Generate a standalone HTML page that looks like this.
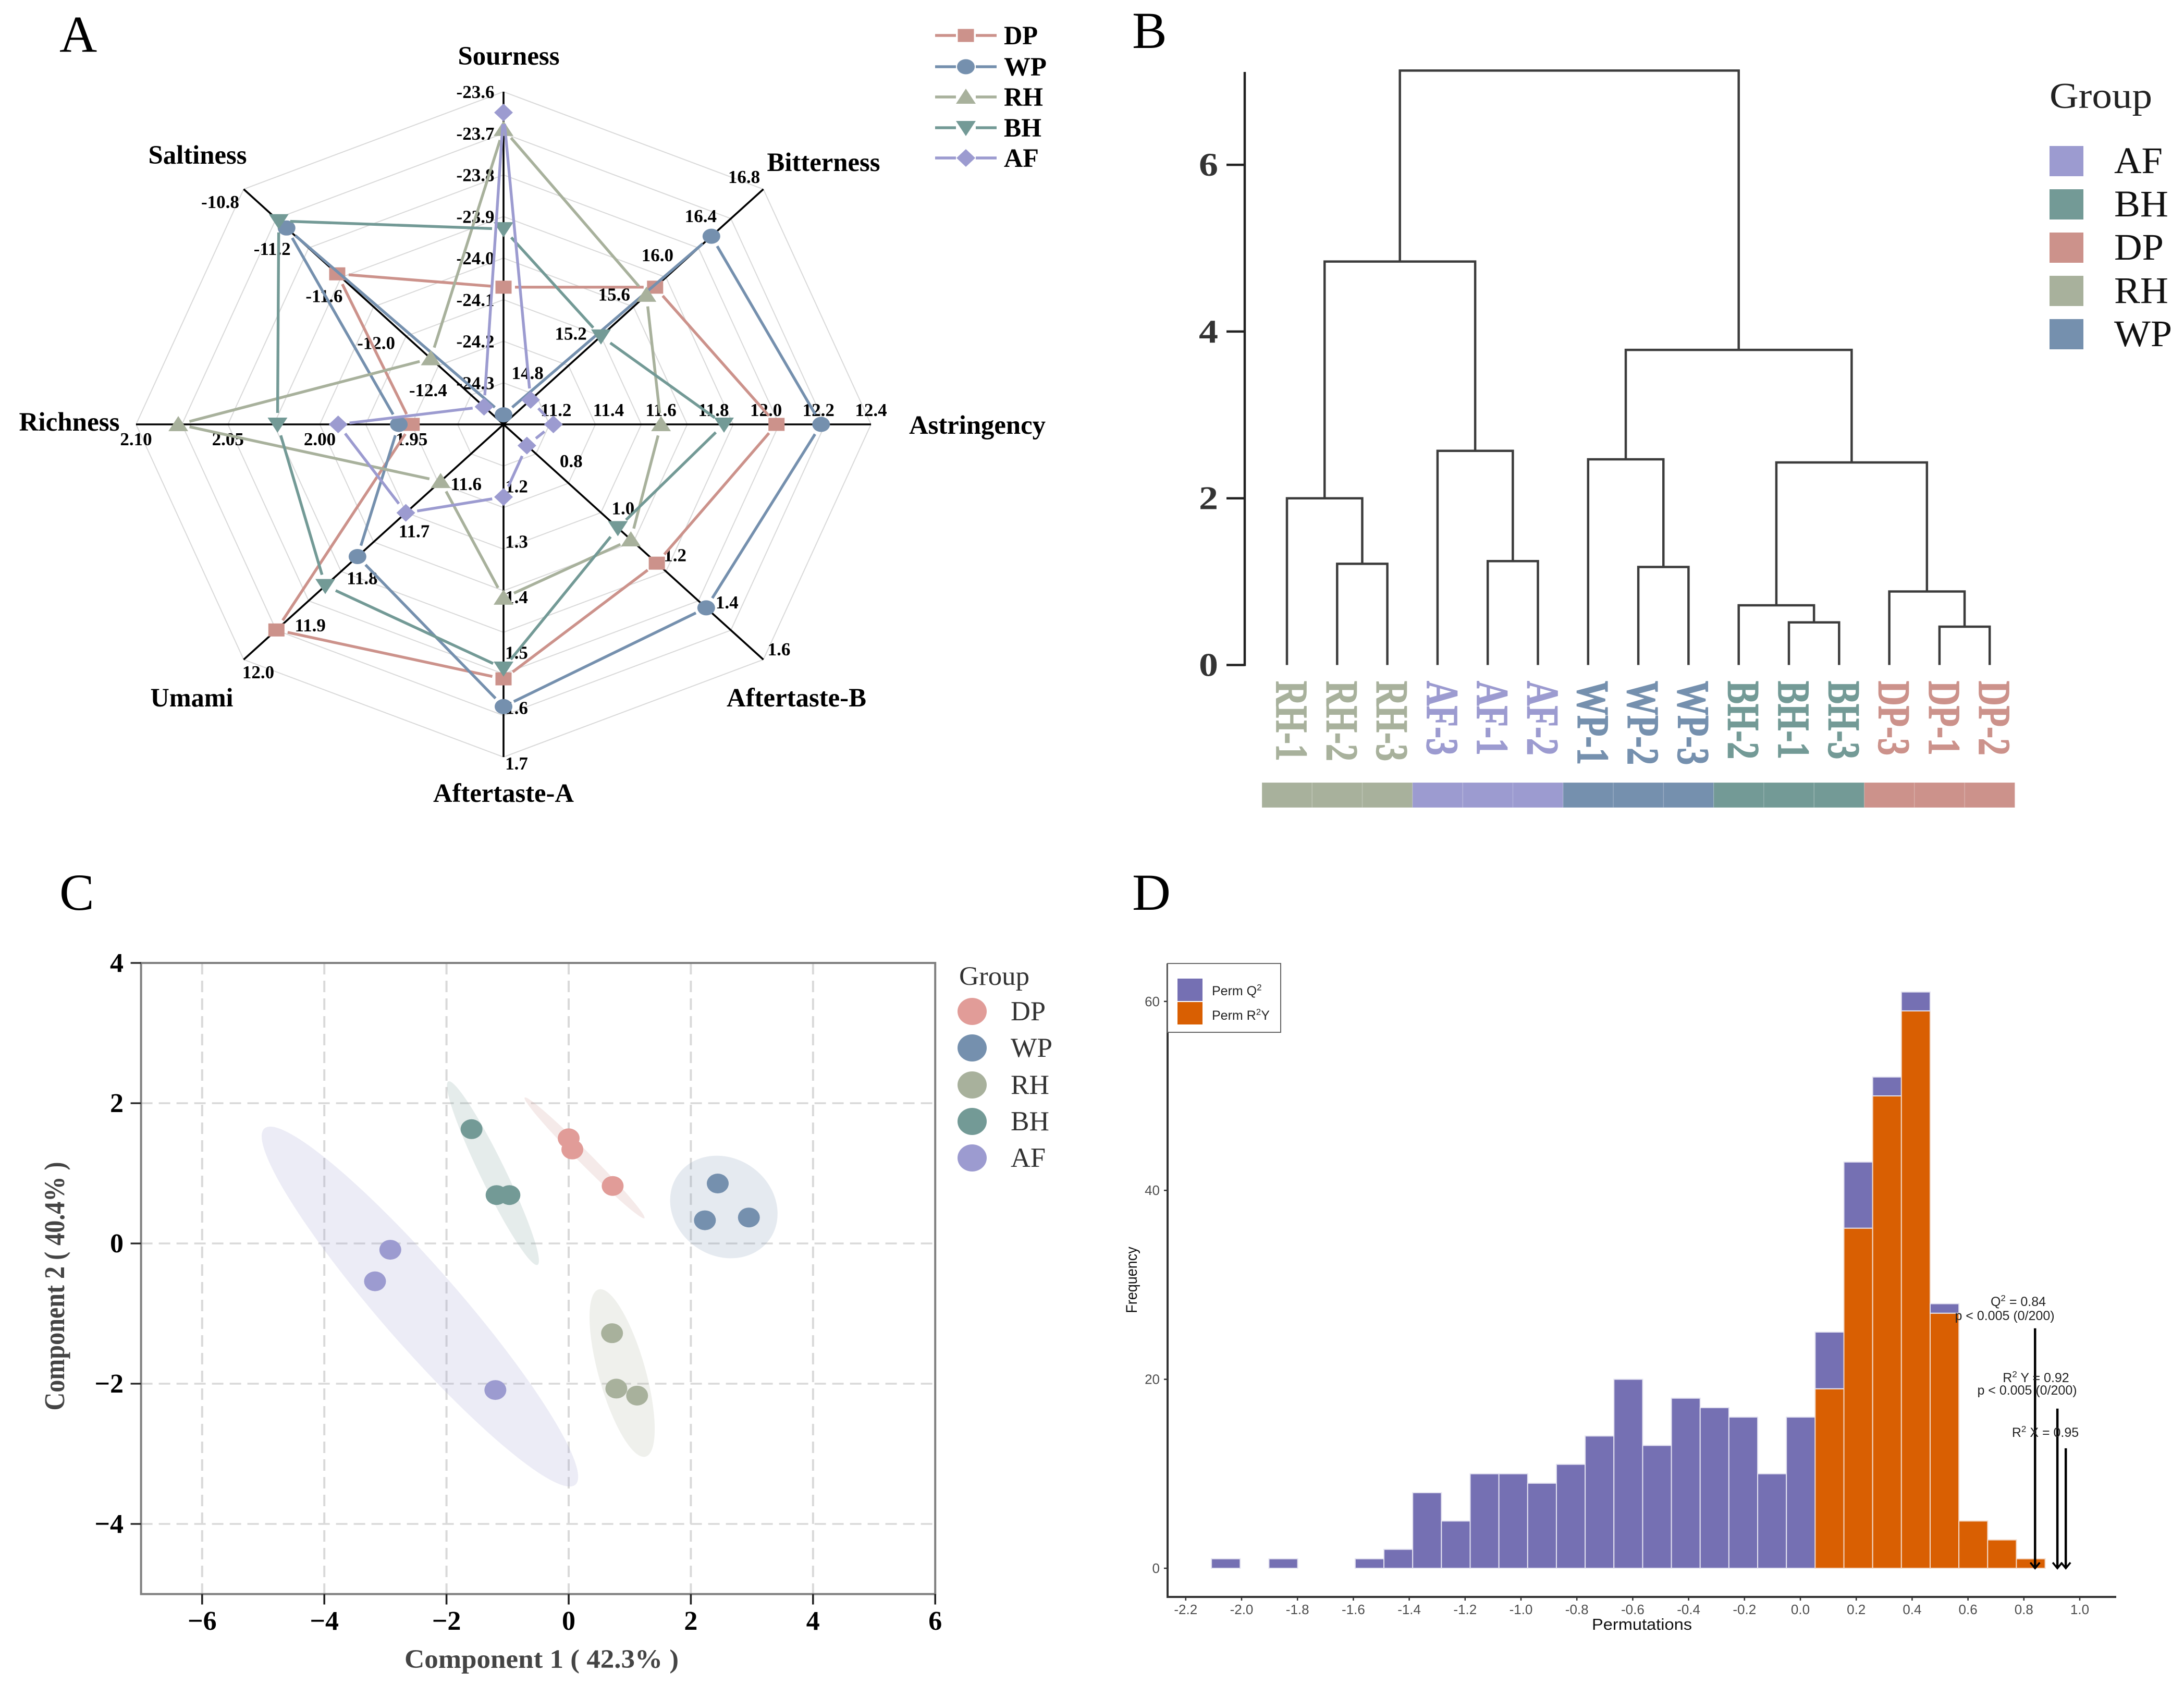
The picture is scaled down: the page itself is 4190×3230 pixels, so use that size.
<!DOCTYPE html>
<html lang="en">
<head>
<meta charset="utf-8">
<title>Four panel sensory analysis figure</title>
<style>
html,body{margin:0;padding:0;background:#fff;}
svg{display:block;}
</style>
</head>
<body>
<svg id="figure" xmlns="http://www.w3.org/2000/svg" width="4190" height="3230" viewBox="0 0 4190 3230" font-family="'Liberation Serif', serif">
  <rect width="4190" height="3230" fill="#fff"/>
  <text x="114" y="99" font-size="100" fill="#000">A</text>
  <text x="2172" y="92" font-size="100" fill="#000">B</text>
  <text x="114" y="1745" font-size="100" fill="#000">C</text>
  <text x="2172" y="1745" font-size="100" fill="#000" textLength="74" lengthAdjust="spacingAndGlyphs">D</text>
  <g id="panel-a"></g>
  <g id="panel-b"></g>
  <g id="panel-c"></g>
  <g id="panel-d"></g>
</svg>

<script>
// Shared SVG helpers
const SVG_NS = 'http://www.w3.org/2000/svg';
function make(tag, attrs, parent) {
  const el = document.createElementNS(SVG_NS, tag);
  for (const k in attrs) el.setAttribute(k, attrs[k]);
  parent.appendChild(el);
  return el;
}
function writeText(parent, str, x, y, size, o) {
  o = o || {};
  const a = {'font-size': size, fill: o.fill || '#000', 'text-anchor': o.anchor || 'start'};
  if (o.weight) a['font-weight'] = o.weight;
  if (o.family) a['font-family'] = o.family;
  if (o.len) { a.textLength = o.len; a.lengthAdjust = 'spacingAndGlyphs'; }
  if (o.rotate !== undefined) {
    a.transform = 'translate(' + x + ',' + y + ') rotate(' + o.rotate + ') scale(1,' + (o.stretch || 1) + ')';
    a.x = 0; a.y = 0;
  } else { a.x = x; a.y = y; }
  const el = make('text', a, parent);
  el.textContent = str;
  return el;
}
const groupColors = {DP: '#cc928b', WP: '#7590ae', RH: '#a8b19c', BH: '#739a96', AF: '#9c9bd0'};
</script>

<script>
// Panel A: radar chart
const radarAxes = ['Sourness', 'Bitterness', 'Astringency', 'Aftertaste-B', 'Aftertaste-A', 'Umami', 'Richness', 'Saltiness'];
const radarAxisMin = [-24.4, 14.4, 11.0, 0.6, 1.1, 11.5, 1.90, -12.8];
const radarAxisMax = [-23.6, 16.8, 12.4, 1.6, 1.7, 12.0, 2.10, -10.8];
const radarTicks = [
  ['-24.3', '-24.2', '-24.1', '-24.0', '-23.9', '-23.8', '-23.7', '-23.6'],
  ['14.8', '15.2', '15.6', '16.0', '16.4', '16.8'],
  ['11.2', '11.4', '11.6', '11.8', '12.0', '12.2', '12.4'],
  ['0.8', '1.0', '1.2', '1.4', '1.6'],
  ['1.2', '1.3', '1.4', '1.5', '1.6', '1.7'],
  ['11.6', '11.7', '11.8', '11.9', '12.0'],
  ['1.95', '2.00', '2.05', '2.10'],
  ['-12.4', '-12.0', '-11.6', '-11.2', '-10.8']
];
const radarDP = [-24.07, 15.80, 12.04, 1.19, 1.559, 11.937, 1.950, -11.52];
const radarWP = [-24.377, 16.32, 12.21, 1.38, 1.609, 11.781, 1.957, -11.13];
const radarRH = [-23.69, 15.72, 11.60, 1.09, 1.413, 11.621, 2.077, -12.24];
const radarBH = [-23.93, 15.30, 11.84, 1.04, 1.54, 11.843, 2.023, -11.07];
const radarAF = [-23.65, 14.65, 11.19, 0.69, 1.231, 11.688, 1.99, -12.65];
const radarSeriesNames = ['DP', 'WP', 'RH', 'BH', 'AF'];

(function () {
  const g = document.getElementById('panel-a');
  const cx = 966, cy = 814, rx = 705, ry = 638, rings = 8;
  const series = [radarDP, radarWP, radarRH, radarBH, radarAF];
  const tickOffsets = [[-54, 12], [-37, -12], [0, -16], [30, -8], [25, 24], [28, 36], [0, 40], [-45, 36]];
  const titleSpots = [[976, 124, 195], [1580, 328, 217], [1875, 832, 262], [1528, 1355, 268], [966, 1538, 270], [368, 1355, 159], [133, 826, 193], [379, 314, 189]];
  function pt(axis, frac) {
    const th = axis * Math.PI / 4;
    return [cx + rx * Math.sin(th) * frac, cy - ry * Math.cos(th) * frac];
  }
  function scale(axis, v) {
    return (v - radarAxisMin[axis]) / (radarAxisMax[axis] - radarAxisMin[axis]);
  }
  for (let r = 1; r <= rings; r++) {
    const pts = radarAxes.map((_, i) => pt(i, r / rings).map(n => n.toFixed(1)).join(',')).join(' ');
    const ring = make('polygon', {points: pts, fill: 'none', stroke: '#d9d9d9', 'stroke-width': 2}, g);
    
    
  }
  radarAxes.forEach((name, i) => {
    const p = pt(i, 1);
    const ax = make('line', {x1: cx, y1: cy, x2: p[0], y2: p[1], stroke: '#000', 'stroke-width': 3.6}, g);
    
    
    radarTicks[i].forEach(t => {
      const q = pt(i, scale(i, parseFloat(t)));
      const lbl = writeText(g, t, q[0] + tickOffsets[i][0], q[1] + tickOffsets[i][1], 35, {weight: 'bold', anchor: 'middle'});
      
      
    });
    const s = titleSpots[i];
    const title = writeText(g, name, s[0], s[1], 51, {weight: 'bold', anchor: 'middle', len: s[2]});
    
    
  });
  function marker(parent, name, x, y) {
    const fill = groupColors[name];
    if (name === 'DP') return make('rect', {x: x - 15.5, y: y - 12.5, width: 31, height: 25, fill: fill}, parent);
    if (name === 'WP') return make('ellipse', {cx: x, cy: y, rx: 17, ry: 14.5, fill: fill}, parent);
    if (name === 'RH') return make('polygon', {points: x + ',' + (y - 16) + ' ' + (x + 19) + ',' + (y + 13) + ' ' + (x - 19) + ',' + (y + 13), fill: fill}, parent);
    if (name === 'BH') return make('polygon', {points: (x - 19) + ',' + (y - 13) + ' ' + (x + 19) + ',' + (y - 13) + ' ' + x + ',' + (y + 16), fill: fill}, parent);
    return make('polygon', {points: x + ',' + (y - 17) + ' ' + (x + 18) + ',' + y + ' ' + x + ',' + (y + 17) + ' ' + (x - 18) + ',' + y, fill: fill}, parent);
  }
  series.forEach((vals, si) => {
    const name = radarSeriesNames[si];
    const sg = make('g', {}, g);
    
    
    const pts = vals.map((v, i) => pt(i, scale(i, v)));
    pts.forEach((p, i) => {
      const q = pts[(i + 1) % pts.length];
      const d = Math.hypot(q[0] - p[0], q[1] - p[1]);
      const gap = Math.min(22, d * 0.35);
      const ux = (q[0] - p[0]) / d, uy = (q[1] - p[1]) / d;
      const seg = make('line', {x1: p[0] + ux * gap, y1: p[1] + uy * gap, x2: q[0] - ux * gap, y2: q[1] - uy * gap, stroke: groupColors[name], 'stroke-width': 5.4}, sg);
      
      
    });
    pts.forEach(p => {
      const m = marker(sg, name, p[0], p[1]);
      
      
    });
  });
  const legendY = [68, 128, 186, 245, 303];
  const legendLen = [65, 82, 75, 72, 67];
  radarSeriesNames.forEach((name, i) => {
    const lg = make('g', {}, g);
    
    
    const y = legendY[i];
    make('line', {x1: 1794, y1: y, x2: 1834, y2: y, stroke: groupColors[name], 'stroke-width': 5.4}, lg);
    make('line', {x1: 1872, y1: y, x2: 1912, y2: y, stroke: groupColors[name], 'stroke-width': 5.4}, lg);
    marker(lg, name, 1853, y);
    writeText(lg, name, 1926, y + 17, 51, {weight: 'bold', len: legendLen[i]});
  });
})();
</script>

<script>
// Panel B: dendrogram
const treeLeaves = ['RH-1', 'RH-2', 'RH-3', 'AF-3', 'AF-1', 'AF-2', 'WP-1', 'WP-2', 'WP-3', 'BH-2', 'BH-1', 'BH-3', 'DP-3', 'DP-1', 'DP-2'];
// Non-negative = leaf index, negative = earlier merge (-1 is the first merge)
const treeMergeLeft = [1, 0, 4, 3, -2, 7, 6, 10, 9, 13, 12, -9, -7, -5];
const treeMergeRight = [2, -1, 5, -3, -4, 8, -6, 11, -8, 14, -10, -11, -12, -13];
const treeMergeHeight = [1.214, 2.0, 1.246, 2.569, 4.84, 1.176, 2.467, 0.511, 0.716, 0.46, 0.882, 2.43, 3.78, 7.13];
const treeYTicks = [0, 2, 4, 6];
const treeLegendGroups = ['AF', 'BH', 'DP', 'RH', 'WP'];

(function () {
  const g = document.getElementById('panel-b');
  const x0 = 2469, dx = 96.3, y0 = 1275.5, unit = 159.9;
  const xOf = i => x0 + dx * i;
  const yOf = v => y0 - unit * v;
  const axis = make('line', {x1: 2388, y1: 138, x2: 2388, y2: y0 + 2, stroke: '#222', 'stroke-width': 4.5}, g);
  
  
  treeYTicks.forEach(t => {
    const tk = make('line', {x1: 2353, y1: yOf(t), x2: 2388, y2: yOf(t), stroke: '#222', 'stroke-width': 4.5}, g);
    
    
    const lbl = writeText(g, String(t), 2337, yOf(t) + 21, 64, {weight: 'bold', anchor: 'end', fill: '#333', len: 37});
    
    
  });
  const nodes = [];
  function nodeOf(ref) {
    return ref >= 0 ? {x: xOf(ref), h: 0} : nodes[-ref - 1];
  }
  treeMergeHeight.forEach((h, i) => {
    const a = nodeOf(treeMergeLeft[i]), b = nodeOf(treeMergeRight[i]);
    const d = 'M' + a.x + ' ' + yOf(a.h) + 'V' + yOf(h) + 'H' + b.x + 'V' + yOf(b.h);
    const link = make('path', {d: d, fill: 'none', stroke: '#3c3c3c', 'stroke-width': 4.5}, g);
    
    
    nodes.push({x: (a.x + b.x) / 2, h: h});
  });
  treeLeaves.forEach((name, i) => {
    const c = groupColors[name.slice(0, 2)];
    const lbl = writeText(g, name, xOf(i) - 20, 1306, 66, {weight: 'bold', fill: c, rotate: 90, stretch: 1.32});
    lbl.setAttribute('stroke', c);
    lbl.setAttribute('stroke-width', '1.2');
    
    
    const cell = make('rect', {x: 2421 + dx * i, y: 1501, width: dx, height: 48, fill: c, stroke: '#fff', 'stroke-opacity': 0.15, 'stroke-width': 1.5}, g);
    
    
  });
  const title = writeText(g, 'Group', 3932, 207, 70, {fill: '#222', len: 197});
  
  
  const swatchTop = [280, 363, 446, 529, 612];
  const textLen = [93, 104, 95, 104, 111];
  treeLegendGroups.forEach((name, i) => {
    const lg = make('g', {}, g);
    
    
    make('rect', {x: 3932, y: swatchTop[i], width: 65, height: 58, fill: groupColors[name]}, lg);
    writeText(lg, name, 4056, swatchTop[i] + 52, 72, {fill: '#111', len: textLen[i]});
  });
})();
</script>

<script>
// Panel C: score plot
const scoreXTicks = [-6, -4, -2, 0, 2, 4, 6];
const scoreYTicks = [-4, -2, 0, 2, 4];
const scoreGroups = ['DP', 'WP', 'RH', 'BH', 'AF'];
const scoreDPx = [0, 0.06, 0.72];
const scoreDPy = [1.50, 1.34, 0.82];
const scoreWPx = [2.44, 2.23, 2.95];
const scoreWPy = [0.855, 0.33, 0.37];
const scoreRHx = [0.71, 0.78, 1.12];
const scoreRHy = [-1.28, -2.07, -2.17];
const scoreBHx = [-1.59, -1.18, -0.97];
const scoreBHy = [1.63, 0.69, 0.69];
const scoreAFx = [-2.92, -3.17, -1.2];
const scoreAFy = [-0.09, -0.54, -2.09];
// Ellipse major-axis tips in data units, plus minor/major ratio
const ellipseDP = [-0.72, 2.08, 1.24, 0.36, 0.074];
const ellipseWP = [1.79, 0.98, 3.29, 0.06, 0.87];
const ellipseRH = [0.49, -0.656, 1.26, -3.04, 0.27];
const ellipseBH = [-1.97, 2.31, -0.51, -0.305, 0.123];
const ellipseAF = [-4.98, 1.64, 0.11, -3.44, 0.165];

(function () {
  const g = document.getElementById('panel-c');
  const X = v => 1091 + 117.2 * v;
  const Y = v => 2385 - 134.5 * v;
  const left = X(-7), right = X(6), top = Y(4), bottom = Y(-5);
  const fmt = v => String(v).replace('-', '\u2212');
  scoreXTicks.slice(0, -1).forEach(t => {
    const gl = make('line', {x1: X(t), y1: top, x2: X(t), y2: bottom, stroke: '#d9d9d9', 'stroke-width': 4, 'stroke-dasharray': '22 12'}, g);
    
    
  });
  scoreYTicks.slice(0, -1).forEach(t => {
    const gl = make('line', {x1: left, y1: Y(t), x2: right, y2: Y(t), stroke: '#d9d9d9', 'stroke-width': 3.4, 'stroke-dasharray': '22 12'}, g);
    
    
  });
  const ellipses = [ellipseDP, ellipseWP, ellipseRH, ellipseBH, ellipseAF];
  const xs = [scoreDPx, scoreWPx, scoreRHx, scoreBHx, scoreAFx];
  const ys = [scoreDPy, scoreWPy, scoreRHy, scoreBHy, scoreAFy];
  scoreGroups.forEach((name, i) => {
    const e = ellipses[i];
    const ax = X(e[0]), ay = Y(e[1]), bx = X(e[2]), by = Y(e[3]);
    const a = Math.hypot(bx - ax, by - ay) / 2;
    const ang = Math.atan2(by - ay, bx - ax) * 180 / Math.PI;
    const el = make('ellipse', {cx: 0, cy: 0, rx: a, ry: a * e[4], fill: groupColors[name], 'fill-opacity': 0.19, transform: 'translate(' + ((ax + bx) / 2) + ',' + ((ay + by) / 2) + ') rotate(' + ang + ')'}, g);
    
    
  });
  scoreGroups.forEach((name, i) => {
    xs[i].forEach((v, j) => {
      const p = make('ellipse', {cx: X(v), cy: Y(ys[i][j]), rx: 21, ry: 19, fill: name === 'DP' ? '#e19c98' : groupColors[name]}, g);
      
      
    });
  });
  const frame = make('rect', {x: left, y: top, width: right - left, height: bottom - top, fill: 'none', stroke: '#7f7f7f', 'stroke-width': 4}, g);
  
  
  scoreXTicks.forEach(t => {
    const tk = make('line', {x1: X(t), y1: bottom, x2: X(t), y2: bottom + 20, stroke: '#222', 'stroke-width': 3.6}, g);
    
    
    const lbl = writeText(g, fmt(t), X(t), 3126, 52, {weight: 'bold', anchor: 'middle'});
    
    
  });
  scoreYTicks.forEach(t => {
    const tk = make('line', {x1: left - 20, y1: Y(t), x2: left, y2: Y(t), stroke: '#222', 'stroke-width': 3.2}, g);
    
    
    const lbl = writeText(g, fmt(t), 237, Y(t) + 17, 52, {weight: 'bold', anchor: 'end'});
    
    
  });
  const xt = writeText(g, 'Component 1 ( 42.3% )', 1039, 3199, 51, {weight: 'bold', anchor: 'middle', fill: '#444', len: 526});
  
  
  const yt = writeText(g, 'Component 2 ( 40.4% )', 123, 2467, 42, {weight: 'bold', anchor: 'middle', fill: '#444', rotate: -90, stretch: 1.3});
  yt.setAttribute('textLength', 477);
  yt.setAttribute('lengthAdjust', 'spacingAndGlyphs');
  
  
  const lt = writeText(g, 'Group', 1840, 1889, 51, {fill: '#333', len: 135});
  
  
  const legendY = [1940, 2010, 2081, 2151, 2221];
  const legendLen = [67, 80, 74, 74, 67];
  scoreGroups.forEach((name, i) => {
    const lg = make('g', {}, g);
    
    
    make('ellipse', {cx: 1865, cy: legendY[i], rx: 28, ry: 26, fill: name === 'DP' ? '#e19c98' : groupColors[name]}, lg);
    writeText(lg, name, 1939, legendY[i] + 17, 53, {fill: '#333', len: legendLen[i]});
  });
})();
</script>

<script>
// Panel D: permutation histogram
const histFirstEdge = -2.108;
const histBinWidth = 0.1029;
const histQ2 = [1, 0, 1, 0, 0, 1, 2, 8, 5, 10, 10, 9, 11, 14, 20, 13, 18, 17, 16, 10, 16, 6, 7, 2, 2, 1, 0, 0, 0];
const histR2Y = [0, 0, 0, 0, 0, 0, 0, 0, 0, 0, 0, 0, 0, 0, 0, 0, 0, 0, 0, 0, 0, 19, 36, 50, 59, 27, 5, 3, 1];
const histXTicks = ['-2.2', '-2.0', '-1.8', '-1.6', '-1.4', '-1.2', '-1.0', '-0.8', '-0.6', '-0.4', '-0.2', '0.0', '0.2', '0.4', '0.6', '0.8', '1.0'];
const histYTicks = [0, 20, 40, 60];
const observedValues = [0.84, 0.92, 0.95];
const observedArrowTops = [25.4, 16.9, 12.7];

(function () {
  const g = document.getElementById('panel-d');
  const X = v => 3454 + 536 * v;
  const Y = v => 3008 - 18.12 * v;
  const sans = "'Liberation Sans', sans-serif";
  const axisY = 3063, axisX = 2240;
  histQ2.forEach((q, k) => {
    const x = X(histFirstEdge + histBinWidth * k);
    const w = histBinWidth * 536;
    const r = histR2Y[k];
    if (r > 0) {
      const rb = make('rect', {x: x, y: Y(r), width: w, height: Y(0) - Y(r), fill: '#d95f02', stroke: '#f2d9c8', 'stroke-width': 2}, g);
      
      
    }
    if (q > 0) {
      const qb = make('rect', {x: x, y: Y(r + q), width: w, height: Y(r) - Y(r + q), fill: '#7570b3', stroke: '#e4e3f0', 'stroke-width': 2}, g);
      
      
    }
  });
  const ya = make('line', {x1: axisX, y1: 1848, x2: axisX, y2: axisY + 2, stroke: '#333', 'stroke-width': 4}, g);
  
  
  const xa = make('line', {x1: axisX, y1: axisY, x2: 4060, y2: axisY, stroke: '#333', 'stroke-width': 4}, g);
  
  
  histXTicks.forEach(t => {
    const v = parseFloat(t);
    const tk = make('line', {x1: X(v), y1: axisY, x2: X(v), y2: axisY + 7, stroke: '#333', 'stroke-width': 2.5}, g);
    
    
    const lbl = writeText(g, t, X(v), 3096, 26, {family: sans, fill: '#4d4d4d', anchor: 'middle'});
    
    
  });
  histYTicks.forEach(t => {
    const tk = make('line', {x1: axisX - 7, y1: Y(t), x2: axisX, y2: Y(t), stroke: '#333', 'stroke-width': 2.5}, g);
    
    
    const lbl = writeText(g, String(t), 2225, Y(t) + 9, 26, {family: sans, fill: '#4d4d4d', anchor: 'end'});
    
    
  });
  const xt = writeText(g, 'Permutations', 3150, 3126, 31, {family: sans, anchor: 'middle', fill: '#111', len: 192});
  
  
  const yt = writeText(g, 'Frequency', 2181, 2455, 27, {family: sans, anchor: 'middle', fill: '#111', rotate: -90, stretch: 1.1});
  
  
  observedValues.forEach((v, i) => {
    const ar = make('g', {fill: 'none', stroke: '#000', 'stroke-width': 4.5}, g);
    
    
    make('line', {x1: X(v), y1: Y(observedArrowTops[i]), x2: X(v), y2: Y(0), 'stroke-width': 4.5}, ar);
    make('polyline', {points: (X(v) - 9) + ',' + (Y(0) - 11) + ' ' + X(v) + ',' + Y(0) + ' ' + (X(v) + 9) + ',' + (Y(0) - 11), 'stroke-width': 3.6}, ar);
  });
  function supText(parent, x, y, size, before, sup, after, anchor) {
    const t = make('text', {x: x, y: y, 'font-size': size, 'font-family': sans, fill: '#222', 'text-anchor': anchor}, parent);
    const a = make('tspan', {}, t);
    a.textContent = before;
    const s = make('tspan', {dy: -size * 0.38, 'font-size': size * 0.68}, t);
    s.textContent = sup;
    const b = make('tspan', {dy: size * 0.38}, t);
    b.textContent = after;
    return t;
  }
  const n1 = supText(g, 3872, 2505, 25, 'Q', '2', ' = 0.84', 'middle');
  
  
  const n2 = writeText(g, 'p < 0.005 (0/200)', 3846, 2532, 25, {family: sans, anchor: 'middle', fill: '#222'});
  
  
  const n3 = supText(g, 3906, 2651, 25, 'R', '2', ' Y = 0.92', 'middle');
  
  
  const n4 = writeText(g, 'p < 0.005 (0/200)', 3889, 2675, 25, {family: sans, anchor: 'middle', fill: '#222'});
  
  
  const n5 = supText(g, 3924, 2756, 25, 'R', '2', ' X = 0.95', 'middle');
  
  
  const lg = make('g', {}, g);
  
  
  make('rect', {x: 2240, y: 1848, width: 217, height: 132, fill: '#fff', stroke: '#666', 'stroke-width': 2}, lg);
  make('rect', {x: 2259, y: 1877, width: 48, height: 43, fill: '#7570b3'}, lg);
  make('rect', {x: 2259, y: 1922, width: 48, height: 43, fill: '#d95f02'}, lg);
  const l1 = supText(lg, 2325, 1909, 25, 'Perm Q', '2', '', 'start');
  
  
  const l2 = supText(lg, 2325, 1956, 25, 'Perm R', '2', 'Y', 'start');
  
  
})();
</script>
</body>
</html>
